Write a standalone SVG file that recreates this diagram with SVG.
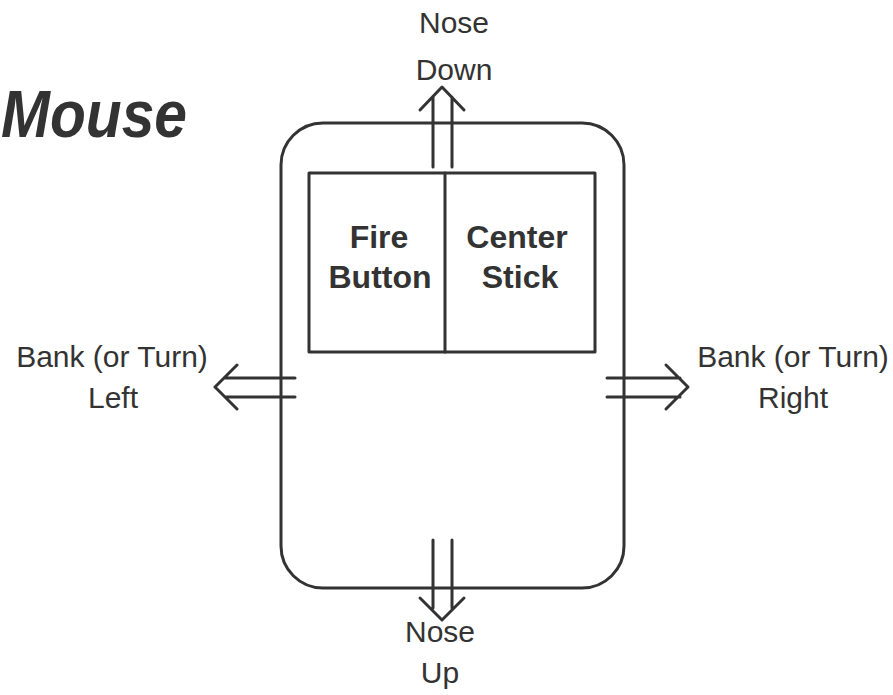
<svg xmlns="http://www.w3.org/2000/svg" width="893" height="695" viewBox="0 0 893 695">
<style>
.ln{fill:none;stroke:#333;stroke-width:3;stroke-linecap:round;stroke-linejoin:round}
.lbl{font-family:"Liberation Sans",Arial,sans-serif;font-size:30px;fill:#333;text-anchor:middle}
.btn{font-family:"Liberation Sans",Arial,sans-serif;font-size:32px;font-weight:bold;fill:#333;text-anchor:middle}
.title{font-family:"Liberation Sans",Arial,sans-serif;font-size:66px;font-weight:bold;font-style:italic;fill:#333}
</style>
<rect width="893" height="695" fill="#fff"/>
<text class="title" x="1" y="137" textLength="186" lengthAdjust="spacingAndGlyphs">Mouse</text>
<g id="mouse">
<rect class="ln" x="281" y="123" width="343" height="465" rx="42" ry="42"/>
</g>
<g id="buttons">
<rect class="ln" x="309" y="173" width="286" height="179"/>
<line class="ln" x1="445" y1="173" x2="445" y2="352"/>
</g>
<g id="fire">
<text class="btn" x="379" y="248">Fire</text>
<text class="btn" x="380" y="288">Button</text>
</g>
<g id="center">
<text class="btn" x="517" y="248">Center</text>
<text class="btn" x="520" y="288">Stick</text>
</g>
<g id="connectors">
<path class="ln" d="M433 167V97M452 167V97M420 110L442 87L464 110"/>
<path class="ln" d="M433 540V608M452 540V608M420 598L442 620L464 598"/>
<path class="ln" d="M295 378H225M295 397H225M237 365L215 387L237 409"/>
<path class="ln" d="M607 378H680M607 397H680M666 365L688 387L666 409"/>
</g>
<g id="labels">
<text class="lbl" x="454" y="33">Nose</text>
<text class="lbl" x="454" y="80">Down</text>
<text class="lbl" x="440" y="642">Nose</text>
<text class="lbl" x="440" y="683">Up</text>
<text class="lbl" x="112" y="367">Bank (or Turn)</text>
<text class="lbl" x="113" y="408">Left</text>
<text class="lbl" x="793" y="367">Bank (or Turn)</text>
<text class="lbl" x="793" y="408">Right</text>
</g>
</svg>
